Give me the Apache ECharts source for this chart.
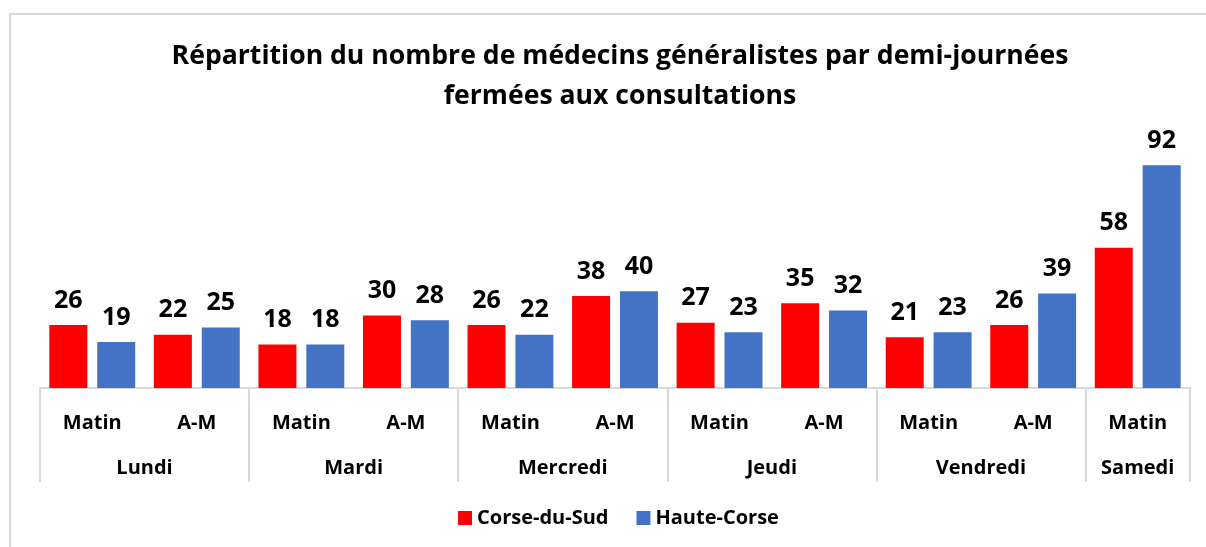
<!DOCTYPE html>
<html>
<head>
    <meta charset="UTF-8">
    <title>Demi-journées fermées</title>
    <script src="https://cdn.jsdelivr.net/npm/echarts@6/dist/echarts.min.js"></script>
    <style>
        html, body { margin: 0; padding: 0; background: #fff; overflow: hidden; }
        .frame {
            position: absolute;
            left: 9px; top: 13px;
            width: 1220px; height: 560px;
            border: 2px solid #d9d9d9;
        }
        #chart { position: absolute; left: 0; top: 0; width: 1206px; height: 547px; }
    </style>
</head>
<body>
<div class="frame"></div>
<div id="chart"></div>
<script>
    const halfDays = ['Matin', 'A-M', 'Matin', 'A-M', 'Matin', 'A-M', 'Matin', 'A-M', 'Matin', 'A-M', 'Matin']
    const days = ['Lundi', 'Mardi', 'Mercredi', 'Jeudi', 'Vendredi', 'Samedi']
    const daySpan = [2, 2, 2, 2, 2, 1]
    const corseDuSud = [26, 22, 18, 30, 26, 38, 27, 35, 21, 26, 58]
    const hauteCorse = [19, 25, 18, 28, 22, 40, 23, 32, 23, 39, 92]

    const FONT = 'Open Sans'
    const RED = '#ff0000'
    const BLUE = '#4472c4'
    const GRID = '#d9d9d9'

    // start index and centre of each day group
    let starts = [], centres = {}
    let acc = 0
    days.forEach((d, i) => {
        starts.push(acc)
        centres[acc + daySpan[i] / 2] = d
        acc += daySpan[i]
    })

    let chart = echarts.init(document.getElementById('chart'), null, {renderer: 'canvas'})

    let barLabel = {
        show: true,
        position: 'top',
        distance: 12,
        color: '#000',
        fontFamily: FONT,
        fontWeight: 'bold',
        fontSize: 25
    }

    chart.setOption({
        animation: false,
        textStyle: {fontFamily: FONT},
        title: {
            text: 'Répartition du nombre de médecins généralistes par demi-journées\nfermées aux consultations',
            left: 615,
            textAlign: 'center',
            top: 31,
            textStyle: {
                fontFamily: FONT,
                fontWeight: 'bold',
                fontSize: 26.6,
                lineHeight: 40,
                color: '#000'
            }
        },
        legend: {
            data: ['Corse-du-Sud', 'Haute-Corse'],
            left: 458,
            top: 508,
            padding: 0,
            icon: 'rect',
            itemWidth: 14,
            itemHeight: 14,
            itemGap: 28,
            textStyle: {fontFamily: FONT, fontWeight: 'bold', fontSize: 20, color: '#000'}
        },
        grid: {left: 40, right: 16, top: 146, bottom: 159, containLabel: false},
        xAxis: [
            {
                type: 'category',
                data: halfDays,
                axisLine: {lineStyle: {color: GRID, width: 2}},
                axisTick: {
                    show: true,
                    length: 94,
                    interval: (index) => starts.includes(index),
                    lineStyle: {color: GRID, width: 2}
                },
                axisLabel: {
                    interval: 0,
                    margin: 25,
                    color: '#000',
                    fontFamily: FONT,
                    fontWeight: 'bold',
                    fontSize: 20
                }
            },
            {
                type: 'value',
                position: 'bottom',
                offset: 45,
                min: 0,
                max: halfDays.length,
                interval: 0.5,
                axisLine: {show: false},
                axisTick: {show: false},
                splitLine: {show: false},
                axisLabel: {
                    margin: 25,
                    showMinLabel: true,
                    showMaxLabel: true,
                    color: '#000',
                    fontFamily: FONT,
                    fontWeight: 'bold',
                    fontSize: 20,
                    formatter: v => centres[v] || ''
                }
            }
        ],
        yAxis: {
            type: 'value',
            min: 0,
            max: 100,
            show: false,
            splitLine: {show: false}
        },
        series: [
            {
                name: 'Corse-du-Sud',
                type: 'bar',
                xAxisIndex: 0,
                data: corseDuSud,
                barWidth: 38,
                barGap: '26%',
                itemStyle: {color: RED},
                label: barLabel
            },
            {
                name: 'Haute-Corse',
                type: 'bar',
                xAxisIndex: 0,
                data: hauteCorse,
                barWidth: 38,
                barGap: '26%',
                itemStyle: {color: BLUE},
                label: barLabel
            }
        ]
    })
</script>
</body>
</html>
